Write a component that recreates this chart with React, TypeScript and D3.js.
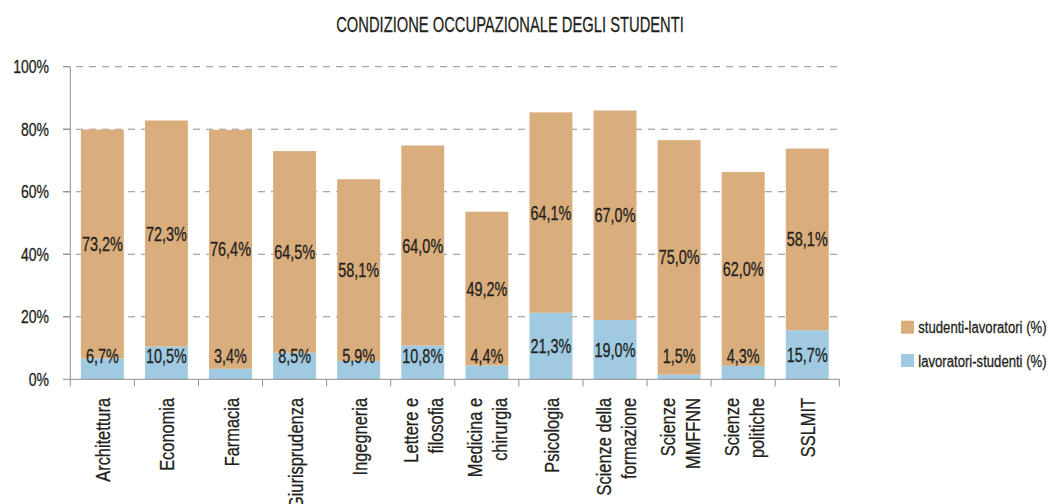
import React from "react";
import * as d3 from "d3";

const categories = [
  "Architettura",
  "Economia",
  "Farmacia",
  "Giurisprudenza",
  "Ingegneria",
  "Lettere e\nfilosofia",
  "Medicina e\nchirurgia",
  "Psicologia",
  "Scienze della\nformazione",
  "Scienze\nMMFFNN",
  "Scienze\npolitiche",
  "SSLMIT",
];
// bottom segment (blue)
const lavoratoriStudenti = [6.7, 10.5, 3.4, 8.5, 5.9, 10.8, 4.4, 21.3, 19.0, 1.5, 4.3, 15.7];
// top segment (tan)
const studentiLavoratori = [73.2, 72.3, 76.4, 64.5, 58.1, 64.0, 49.2, 64.1, 67.0, 75.0, 62.0, 58.1];
const yTicks = [0, 20, 40, 60, 80, 100];
const seriesNames = ["studenti-lavoratori (%)", "lavoratori-studenti (%)"];
const title = "CONDIZIONE OCCUPAZIONALE DEGLI STUDENTI";

const W = 1049;
const H = 504;
const TAN = "#D9AD7C";
const BLUE = "#9FCAE2";
const INK = "#231F20";
const FONT = "'Liberation Sans', Arial, sans-serif";

const it = d3.formatLocale({ decimal: ",", thousands: ".", grouping: [3], currency: ["", "€"] });
const fmt = (v: number) => it.format(".1f")(v) + "%";

// squeezed text to mimic the condensed typeface
const Txt = ({ x, y, size, sx = 0.78, rot = 0, anchor = "middle", dy = "0", children }: any) => (
  <text
    transform={`translate(${x},${y}) rotate(${rot}) scale(${sx},1)`}
    fontSize={size}
    fontFamily={FONT}
    fill={INK}
    stroke={INK}
    strokeWidth={0.3}
    textAnchor={anchor}
    dy={dy}
  >
    {children}
  </text>
);

export default function App() {
  const x = d3.scaleBand<number>()
    .domain(d3.range(categories.length))
    .range([70.3, 839.3])
    .paddingInner(0.33)
    .paddingOuter(0.165);
  const y = d3.scaleLinear().domain([0, 100]).range([379.3, 66.7]);

  const rows = categories.map((c, i) => ({ i, lav: lavoratoriStudenti[i], stud: studentiLavoratori[i] }));
  const stack = d3.stack<any>().keys(["lav", "stud"])(rows);
  const colors: Record<string, string> = { lav: BLUE, stud: TAN };

  const step = x.step();
  const boundaries = d3.range(categories.length + 1).map((k) => 70.3 + k * step);

  return (
    <div style={{ position: "absolute", left: 0, top: 0 }}>
      <svg width={W} height={H} style={{ display: "block", background: "#fff" }}>
        <Txt x={510} y={32.3} size={22} sx={0.67}>{title}</Txt>

        {/* grid */}
        {yTicks.filter((t) => t > 0).map((t) => (
          <line key={t} x1={63} x2={840} y1={y(t)} y2={y(t)} stroke="#8f8f8f" strokeWidth={1} strokeDasharray="7,6" />
        ))}
        {yTicks.map((t) => (
          <g key={"yt" + t}>
            <line x1={63} x2={70.3} y1={y(t)} y2={y(t)} stroke="#8f8f8f" />
            <Txt x={49} y={y(t)} size={17.5} sx={0.8} anchor="end" dy="0.36em">{t + "%"}</Txt>
          </g>
        ))}

        {/* bars */}
        {stack.map((layer) =>
          layer.map((d, i) => (
            <rect
              key={layer.key + i}
              x={x(i)}
              width={x.bandwidth()}
              y={y(d[1])}
              height={y(d[0]) - y(d[1])}
              fill={colors[layer.key]}
            />
          ))
        )}

        {/* axes */}
        <line x1={70.3} x2={70.3} y1={y(100)} y2={y(0)} stroke="#8f8f8f" />
        <line x1={70.3} x2={839.3} y1={y(0)} y2={y(0)} stroke="#8f8f8f" />
        {boundaries.map((bx, k) => (
          <line key={"xt" + k} x1={bx} x2={bx} y1={y(0)} y2={y(0) + 7} stroke="#8f8f8f" />
        ))}

        {/* value labels */}
        {stack.map((layer) =>
          layer.map((d, i) => {
            const v = d[1] - d[0];
            const cx = (x(i) as number) + x.bandwidth() / 2;
            let cy = (y(d[0]) + y(d[1])) / 2;
            if (layer.key === "lav") cy = Math.min(cy, y(0) - 23);
            return (
              <Txt key={"lb" + layer.key + i} x={cx} y={cy} size={19.5} sx={0.74} dy="0.36em">
                {fmt(v)}
              </Txt>
            );
          })
        )}

        {/* category labels */}
        {categories.map((c, i) => {
          const lines = c.split("\n");
          const cx = (x(i) as number) + x.bandwidth() / 2;
          return lines.map((ln, j) => (
            <Txt
              key={"cl" + i + j}
              x={cx + 8 + (j - (lines.length - 1) / 2) * 25}
              y={398}
              size={21}
              sx={0.78}
              rot={-90}
              anchor="end"
            >
              {ln}
            </Txt>
          ));
        })}

        {/* legend */}
        {seriesNames.map((s, k) => (
          <g key={s}>
            <rect x={901} y={320.7 + k * 33.3} width={13} height={13} fill={k === 0 ? TAN : BLUE} />
            <Txt x={918.3} y={333.3 + k * 33.3} size={16} sx={0.82} anchor="start">{s}</Txt>
          </g>
        ))}
      </svg>
    </div>
  );
}
